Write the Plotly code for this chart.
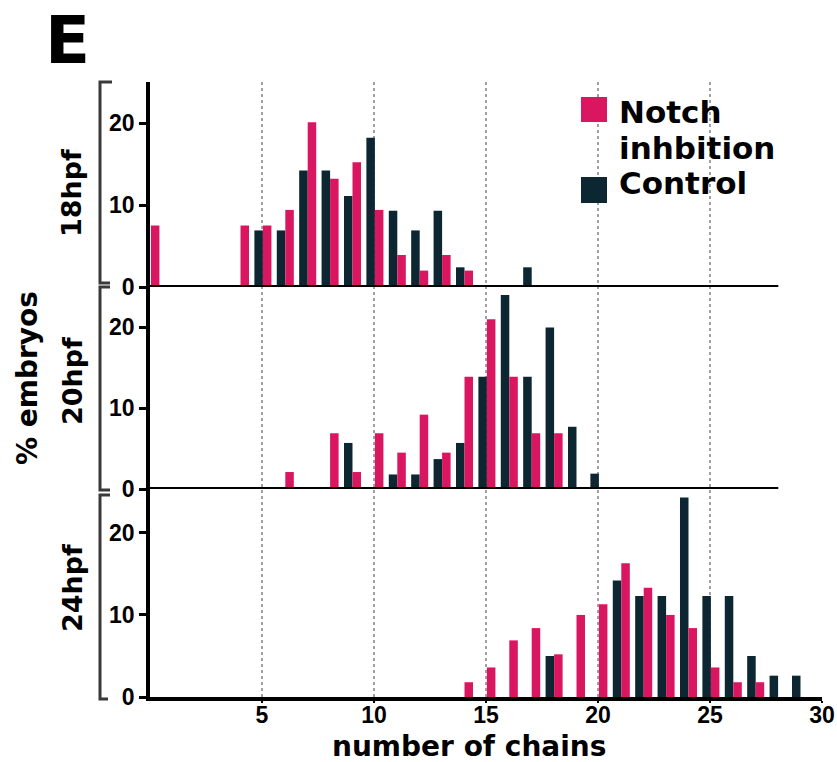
import plotly.graph_objects as go

# ---------------- data ----------------
chains_notch_18 = [0, 4, 5, 6, 7, 8, 9, 10, 11, 12, 13, 14]
pct_notch_18 = [7.5, 7.5, 7.5, 9.4, 20.1, 13.2, 15.2, 9.4, 3.9, 2.0, 3.9, 2.0]
chains_ctrl_18 = [5, 6, 7, 8, 9, 10, 11, 12, 13, 14, 17]
pct_ctrl_18 = [6.9, 6.9, 14.2, 14.2, 11.1, 18.2, 9.3, 6.9, 9.3, 2.4, 2.4]

chains_notch_20 = [6, 8, 9, 10, 11, 12, 13, 14, 15, 16, 17, 18]
pct_notch_20 = [2.1, 6.9, 2.1, 6.9, 4.5, 9.2, 4.5, 13.9, 21.0, 13.9, 6.9, 6.9]
chains_ctrl_20 = [9, 11, 12, 13, 14, 15, 16, 17, 18, 19, 20]
pct_ctrl_20 = [5.7, 1.8, 1.8, 3.7, 5.7, 13.9, 24.0, 13.9, 20.0, 7.7, 1.9]

chains_notch_24 = [14, 15, 16, 17, 18, 19, 20, 21, 22, 23, 24, 25, 26, 27]
pct_notch_24 = [1.8, 3.6, 6.9, 8.4, 5.2, 10.0, 11.3, 16.3, 13.3, 10.0, 8.4, 3.6, 1.8, 1.8]
chains_ctrl_24 = [18, 21, 22, 23, 24, 25, 26, 27, 28, 29]
pct_ctrl_24 = [5.0, 14.2, 12.3, 12.3, 24.3, 12.3, 12.3, 5.0, 2.6, 2.6]

panel_labels = ["18hpf", "20hpf", "24hpf"]
series_names = ["Notch inhbition", "Control"]
x_ticks = [5, 10, 15, 20, 25, 30]
grid_x = [5, 10, 15, 20, 25]
y_ticks = [0, 10, 20]

# ---------------- style ----------------
W, H = 837, 762
PINK = "#DB1660"
DARK = "#0C2731"
FONT = "DejaVu Sans"
TICKFONT = "Liberation Sans"


def px(x):
    return x / W


def py(y):
    return 1 - y / H


fig = go.Figure()

panels = [
    (chains_notch_18, pct_notch_18, chains_ctrl_18, pct_ctrl_18, "x", "y"),
    (chains_notch_20, pct_notch_20, chains_ctrl_20, pct_ctrl_20, "x2", "y2"),
    (chains_notch_24, pct_notch_24, chains_ctrl_24, pct_ctrl_24, "x3", "y3"),
]
for i, (xn, yn, xc, yc, xa, ya) in enumerate(panels):
    fig.add_trace(go.Bar(x=xc, y=yc, name=series_names[1], marker_color=DARK,
                         width=0.38, offset=-0.34, marker_line_width=0,
                         xaxis=xa, yaxis=ya, showlegend=False))
    fig.add_trace(go.Bar(x=xn, y=yn, name=series_names[0], marker_color=PINK,
                         width=0.38, offset=0.04, marker_line_width=0,
                         xaxis=xa, yaxis=ya, showlegend=False))

x_dom = [px(150), px(822)]
y_doms = [[py(287), py(82)], [py(489), py(287)], [py(697), py(489)]]
y_tops = [25, 25, 25.35]

tickfont = dict(family=TICKFONT, size=23, color="black", weight="bold")

for i in range(3):
    sfx = "" if i == 0 else str(i + 1)
    last = i == 2
    fig.update_layout(**{
        "xaxis" + sfx: dict(
            domain=x_dom, range=[0, 30], anchor="y" + sfx, automargin=False,
            showgrid=False, zeroline=False,
            tickvals=x_ticks if last else [],
            showticklabels=last, ticks="outside" if last else "",
            ticklen=2, tickwidth=2, tickcolor="black",
            ticklabelstandoff=-8,
            showline=last, linecolor="black", linewidth=4,
            tickfont=tickfont,
        ),
        "yaxis" + sfx: dict(
            domain=y_doms[i], range=[0, y_tops[i]], anchor="x" + sfx,
            automargin=False,
            showgrid=False, zeroline=False, tickvals=y_ticks,
            ticks="outside", ticklen=7, tickwidth=3, tickcolor="black",
            showline=True, linecolor="black", linewidth=3.5,
            tickfont=tickfont,
        ),
    })

shapes = []
# dotted vertical gridlines spanning all three panels
for gx in grid_x:
    shapes.append(dict(type="line", xref="x3", yref="paper", x0=gx, x1=gx,
                       y0=py(697), y1=py(80),
                       line=dict(color="#8a8a8a", width=1.6, dash="dot"),
                       layer="below"))
# baselines of upper panels (shorter than bottom axis)
for xa, ya in [("x", "y"), ("x2", "y2")]:
    shapes.append(dict(type="line", xref=xa, yref=ya, x0=0, x1=28.05, y0=0, y1=0,
                       line=dict(color="black", width=4)))

# left brackets (broken-axis marks)
BR = "#3a3a3a"
brackets = [(82, 283, 112, 110), (287, 490, 110, 110), (495, 699, 110, 108)]
for top, bot, capt, capb in brackets:
    path = (f"M {px(capt)} {py(top)} L {px(100)} {py(top)} "
            f"L {px(100)} {py(bot)} L {px(capb)} {py(bot)}")
    shapes.append(dict(type="path", xref="paper", yref="paper", path=path,
                       line=dict(color=BR, width=3)))

# legend squares
shapes.append(dict(type="rect", xref="paper", yref="paper",
                   x0=px(581), x1=px(607), y0=py(122), y1=py(97),
                   fillcolor=PINK, line_width=0))
shapes.append(dict(type="rect", xref="paper", yref="paper",
                   x0=px(581), x1=px(607), y0=py(203), y1=py(177),
                   fillcolor=DARK, line_width=0))

annotations = []


def ann(text, x, y, size, angle=0, xanchor="center", yanchor="middle"):
    annotations.append(dict(text=text, x=px(x), y=py(y), xref="paper", yref="paper",
                            showarrow=False, textangle=angle,
                            xanchor=xanchor, yanchor=yanchor,
                            font=dict(family=FONT, size=size, color="black",
                                      weight="bold")))


ann("E", 67, 41, 66)
ann("% embryos", 27, 378, 28, angle=-90)
ann(panel_labels[0], 72, 193, 27, angle=-90)
ann(panel_labels[1], 72, 381, 27, angle=-90)
ann(panel_labels[2], 72, 588, 27, angle=-90)
ann("number of chains", 469, 746, 28)
ann("Notch", 617, 112, 31, xanchor="left")
ann("inhbition", 617, 148, 31, xanchor="left")
ann("Control", 617, 183, 31, xanchor="left")

fig.update_layout(
    width=W, height=H,
    margin=dict(l=0, r=0, t=0, b=0),
    paper_bgcolor="white", plot_bgcolor="white",
    barmode="overlay",
    shapes=shapes, annotations=annotations,
    showlegend=False,
)

fig.write_html("out.html")
